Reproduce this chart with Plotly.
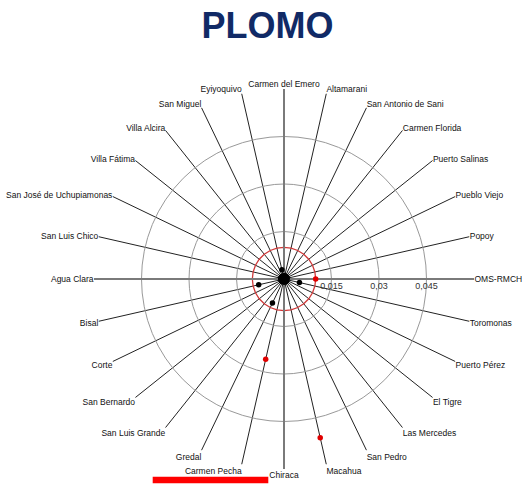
import plotly.graph_objects as go

# ---- data ----
sites = [
    "Carmen del Emero", "Altamarani", "San Antonio de Sani", "Carmen Florida",
    "Puerto Salinas", "Pueblo Viejo", "Popoy", "OMS-RMCH", "Toromonas",
    "Puerto Pérez", "El Tigre", "Las Mercedes", "San Pedro", "Macahua",
    "Chiraca", "Carmen Pecha", "Gredal", "San Luis Grande", "San Bernardo",
    "Corte", "Bisal", "Agua Clara", "San Luis Chico",
    "San José de Uchupiamonas", "Villa Fátima", "Villa Alcira", "San Miguel",
    "Eyiyoquivo",
]
lead_mg_l = [
    0.001, 0.001, 0.001, 0.001,
    0.001, 0.001, 0.001, 0.010, 0.005,
    0.001, 0.001, 0.001, 0.001, 0.0514,
    0.001, 0.026, 0.0084, 0.001, 0.001,
    0.001, 0.0082, 0.001, 0.001,
    0.001, 0.001, 0.001, 0.001,
    0.003,
]
OMS_LIMIT = 0.01
R_MAX = 0.06
radial_ticks = [0.015, 0.03, 0.045]

marker_colors = ["#E00000" if v >= OMS_LIMIT else "#000000" for v in lead_mg_l]

fig = go.Figure()

# OMS limit circle
fig.add_trace(go.Scatterpolar(
    r=[OMS_LIMIT] * (len(sites) + 1), theta=sites + [sites[0]],
    mode="lines", line=dict(color="#D03A3A", width=1.3),
    hoverinfo="skip", showlegend=False,
))
# main cross axes (gray, thicker)
fig.add_trace(go.Scatterpolar(
    r=[R_MAX, 0, R_MAX], theta=[sites[0], sites[0], sites[14]],
    mode="lines", line=dict(color="#7a7a7a", width=2),
    hoverinfo="skip", showlegend=False,
))
fig.add_trace(go.Scatterpolar(
    r=[R_MAX, 0, R_MAX], theta=[sites[21], sites[21], sites[7]],
    mode="lines", line=dict(color="#7a7a7a", width=2),
    hoverinfo="skip", showlegend=False,
))
# data points
fig.add_trace(go.Scatterpolar(
    r=lead_mg_l, theta=sites, mode="markers",
    marker=dict(color=marker_colors, size=5.5),
    showlegend=False,
))

fig.update_layout(
    width=522, height=486,
    margin=dict(l=94, r=48, t=89, b=17),
    paper_bgcolor="white",
    separators=",.",
    font=dict(family="Liberation Sans, Arial, sans-serif", color="#222"),
    title=dict(
        text="<b>PLOMO</b>", x=267.5 / 522, xanchor="center",
        y=1 - 25.5 / 486, yanchor="middle", yref="container",
        font=dict(size=36, color="#112A66", family="Liberation Sans, Arial, sans-serif"),
    ),
    polar=dict(
        bgcolor="white",
        domain=dict(x=[0, 1], y=[0, 1]),
        radialaxis=dict(
            range=[0, R_MAX], tickvals=radial_ticks,
            showline=False, ticks="", angle=0, side="clockwise",
            gridcolor="#999999", gridwidth=1,
            tickfont=dict(size=9, color="#333"),
        ),
        angularaxis=dict(
            direction="clockwise", rotation=90,
            showline=False, ticks="",
            gridcolor="#222222", gridwidth=1,
            tickfont=dict(size=8.5, color="#111"),
        ),
    ),
    shapes=[dict(
        type="rect", xref="paper", yref="paper", layer="above",
        x0=(152.7 - 94) / 380, x1=(268.3 - 94) / 380,
        y0=(469 - 483.3) / 380, y1=(469 - 476.7) / 380,
        fillcolor="#FF0000", line=dict(width=0),
    )],
)

fig.write_html("out.html", config={"displayModeBar": False},
               post_script="document.body.style.margin='0';")
